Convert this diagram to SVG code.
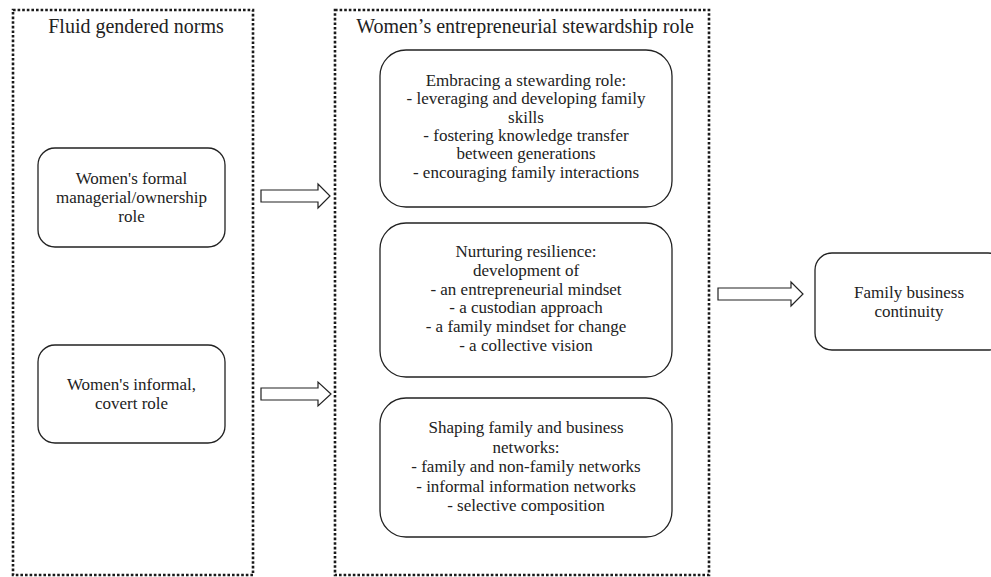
<svg xmlns="http://www.w3.org/2000/svg" width="991" height="577" viewBox="0 0 991 577">
<style>
.frame{fill:none;stroke:#1a1a1a;stroke-width:2.6;stroke-dasharray:2.6 2}
.box{fill:#fff;stroke:#222;stroke-width:1.3}
.arrow{fill:#fff;stroke:#222;stroke-width:1.2;stroke-linejoin:miter}
text{font-family:"Liberation Serif","Times New Roman",serif;fill:#222;text-anchor:middle}
.title{font-size:20px}
.t{font-size:17px}
</style>
<rect width="991" height="577" fill="#fff"/>
<g id="frame-norms">
<rect class="frame" x="13" y="10" width="240" height="565"/>
<text class="title" x="136" y="33">Fluid gendered norms</text>
</g>
<g id="frame-stewardship">
<rect class="frame" x="335" y="10" width="374" height="565"/>
<text class="title" x="525" y="33">Women’s entrepreneurial stewardship role</text>
</g>
<g id="node-formal">
<rect class="box" x="38" y="148" width="187" height="99" rx="17"/>
<text class="t" x="131.5" y="184">Women's formal</text>
<text class="t" x="131.5" y="203">managerial/ownership</text>
<text class="t" x="131.5" y="222">role</text>
</g>
<g id="node-informal">
<rect class="box" x="38" y="345" width="187" height="98" rx="17"/>
<text class="t" x="131.5" y="390">Women's informal,</text>
<text class="t" x="131.5" y="409">covert role</text>
</g>
<g id="node-embracing">
<rect class="box" x="380" y="50" width="292" height="157" rx="26"/>
<text class="t" x="526" y="86">Embracing a stewarding role:</text>
<text class="t" x="526" y="104.3">- leveraging and developing family</text>
<text class="t" x="526" y="122.6">skills</text>
<text class="t" x="526" y="140.9">- fostering knowledge transfer</text>
<text class="t" x="526" y="159.2">between generations</text>
<text class="t" x="526" y="177.5">- encouraging family interactions</text>
</g>
<g id="node-nurturing">
<rect class="box" x="380" y="223" width="292" height="154" rx="26"/>
<text class="t" x="526" y="257">Nurturing resilience:</text>
<text class="t" x="526" y="275.8">development of</text>
<text class="t" x="526" y="294.6">- an entrepreneurial mindset</text>
<text class="t" x="526" y="313.4">- a custodian approach</text>
<text class="t" x="526" y="332.2">- a family mindset for change</text>
<text class="t" x="526" y="351">- a collective vision</text>
</g>
<g id="node-shaping">
<rect class="box" x="380" y="398" width="292" height="139" rx="26"/>
<text class="t" x="526" y="433">Shaping family and business</text>
<text class="t" x="526" y="452.5">networks:</text>
<text class="t" x="526" y="472">- family and non-family networks</text>
<text class="t" x="526" y="491.5">- informal information networks</text>
<text class="t" x="526" y="511">- selective composition</text>
</g>
<g id="node-continuity">
<rect class="box" x="815" y="253" width="190" height="97" rx="17"/>
<text class="t" x="909" y="298">Family business</text>
<text class="t" x="909" y="317">continuity</text>
</g>
<g id="connectors">
<polygon class="arrow" points="261,190 318,190 318,184 330,196 318,208 318,202 261,202"/>
<polygon class="arrow" points="261,388 318,388 318,382 331,394 318,406 318,400 261,400"/>
<polygon class="arrow" points="718,288 791,288 791,282 803,294 791,306 791,300 718,300"/>
</g>
</svg>
